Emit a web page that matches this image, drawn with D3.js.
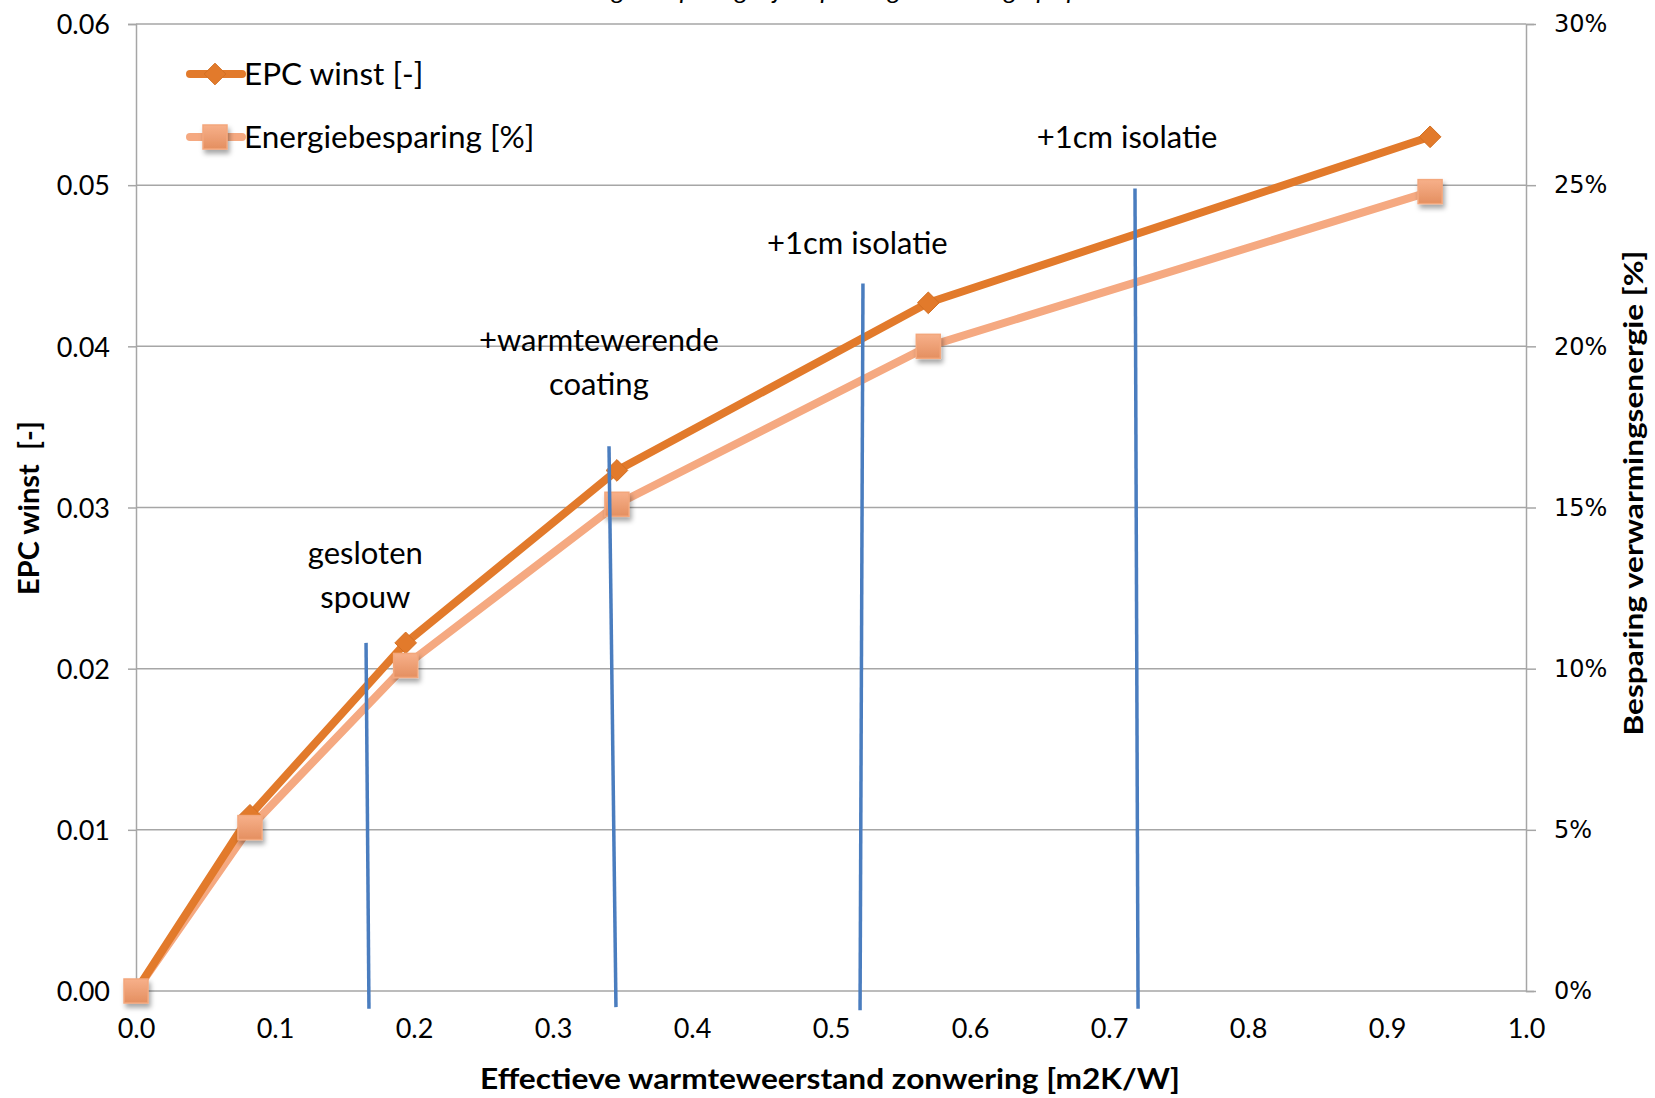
<!DOCTYPE html>
<html>
<head>
<meta charset="utf-8">
<script src="https://cdn.jsdelivr.net/npm/d3@7"></script>
<style>
  html, body { margin: 0; padding: 0; background: #fff; overflow: hidden; }
  svg { display: block; font-family: Lato, "Open Sans", sans-serif; }
  .tick text { fill: #000; }
</style>
</head>
<body>
<svg id="chart" width="1655" height="1098"></svg>
<script>
// --- data ---
const resistance = [0, 0.082, 0.194, 0.346, 0.57, 0.931];
const epcGain = [0, 0.0109, 0.0216, 0.0323, 0.0427, 0.053];
const energySaving = [0, 0.0507, 0.101, 0.151, 0.2, 0.248];

const xTicks = [0, 0.1, 0.2, 0.3, 0.4, 0.5, 0.6, 0.7, 0.8, 0.9, 1.0];
const leftTicks = [0, 0.01, 0.02, 0.03, 0.04, 0.05, 0.06];
const rightTicks = [0, 0.05, 0.1, 0.15, 0.2, 0.25, 0.3];

// blue marker lines: [x top, y top, x bottom, y bottom]
const markerLines = [
  [0.1655, 0.0216, 0.1676, -0.0011],
  [0.3403, 0.0338, 0.3453, -0.001],
  [0.523, 0.0439, 0.5209, -0.0012],
  [0.7187, 0.0498, 0.7209, -0.0011]
];

// annotations: lines of text, centre x, baseline y of first line (data units)
const notes = [
  { lines: ["gesloten", "spouw"], x: 0.165, y: 0.0265 },
  { lines: ["+warmtewerende", "coating"], x: 0.333, y: 0.0397 },
  { lines: ["+1cm isolatie"], x: 0.519, y: 0.0457 },
  { lines: ["+1cm isolatie"], x: 0.713, y: 0.0523 }
];

const seriesNames = ["EPC winst [-]", "Energiebesparing [%]"];

const COLORS = { epc: "#E27A2B", energy: "#F5A981", blue: "#4A7DBF", grid: "#A6A6A6" };
const M = { left: 136, right: 1526, top: 24, bottom: 991 };

const svg = d3.select("#chart");

const x = d3.scaleLinear().domain([0, 1]).range([M.left, M.right]);
const yL = d3.scaleLinear().domain([0, 0.06]).range([M.bottom, M.top]);
const yR = d3.scaleLinear().domain([0, 0.3]).range([M.bottom, M.top]);

// defs: shadow + square gradient
const defs = svg.append("defs");
const shadow = defs.append("filter").attr("id", "shadow")
  .attr("x", "-50%").attr("y", "-50%").attr("width", "200%").attr("height", "200%");
shadow.append("feDropShadow").attr("dx", 2).attr("dy", 4).attr("stdDeviation", 2.5)
  .attr("flood-color", "#000").attr("flood-opacity", 0.35);
const grad = defs.append("linearGradient").attr("id", "sq").attr("x1", 0).attr("y1", 0).attr("x2", 0).attr("y2", 1);
grad.append("stop").attr("offset", "0%").attr("stop-color", "#F7B08A");
grad.append("stop").attr("offset", "100%").attr("stop-color", "#E48F60");

// cropped title at the very top (only descenders visible, as in the source)
svg.append("text")
  .attr("x", 845).attr("y", -1)
  .attr("text-anchor", "middle")
  .attr("font-size", 26).attr("font-style", "italic")
  .text("Energiebesparing bij toepassing zonwering op spouw");

// gridlines
svg.append("g").selectAll("line").data(leftTicks).join("line")
  .attr("x1", M.left).attr("x2", M.right)
  .attr("y1", d => yL(d)).attr("y2", d => yL(d))
  .attr("stroke", COLORS.grid).attr("stroke-width", 1.5);

// left axis
const leftAxis = svg.append("g")
  .attr("transform", `translate(${M.left},0)`)
  .call(d3.axisLeft(yL).tickValues(leftTicks).tickFormat(d3.format(".2f")).tickSize(8).tickPadding(18));
// right axis
const rightAxis = svg.append("g")
  .attr("transform", `translate(${M.right},0)`)
  .call(d3.axisRight(yR).tickValues(rightTicks).tickFormat(d3.format(".0%")).tickSize(8).tickPadding(20));
// bottom axis (labels only)
const bottomAxis = svg.append("g")
  .attr("transform", `translate(0,${M.bottom})`)
  .call(d3.axisBottom(x).tickValues(xTicks).tickFormat(d3.format(".1f")).tickSize(0).tickPadding(42));

[leftAxis, rightAxis, bottomAxis].forEach(g => {
  g.selectAll(".domain").attr("stroke", COLORS.grid).attr("stroke-width", 1.5);
  g.selectAll(".tick line").attr("stroke", COLORS.grid).attr("stroke-width", 1.5);
  g.selectAll(".tick text").attr("font-size", 27).attr("font-family", "Lato, sans-serif");
});
bottomAxis.select(".domain").remove();
rightAxis.selectAll(".tick text").attr("font-family", "'DejaVu Sans', sans-serif").attr("font-size", 24);
rightAxis.selectAll(".tick line").attr("x2", 10);
leftAxis.selectAll(".tick text").attr("dy", "0.36em");
bottomAxis.selectAll(".tick text").attr("dy", "0.2em");

// axis titles
svg.append("text")
  .attr("transform", `translate(39,${508}) rotate(-90)`)
  .attr("text-anchor", "middle")
  .attr("font-size", 29).attr("font-weight", "bold")
  .attr("xml:space", "preserve")
  .text("EPC winst\u00a0\u00a0[-]");
svg.append("text")
  .attr("transform", `translate(1643,${493}) rotate(-90)`)
  .attr("text-anchor", "middle")
  .attr("font-size", 27).attr("font-weight", "bold")
  .attr("textLength", 485).attr("lengthAdjust", "spacingAndGlyphs")
  .text("Besparing verwarmingsenergie [%]");
svg.append("text")
  .attr("x", 830).attr("y", 1089)
  .attr("text-anchor", "middle")
  .attr("font-size", 28).attr("font-weight", "bold")
  .attr("textLength", 700).attr("lengthAdjust", "spacingAndGlyphs")
  .text("Effectieve warmteweerstand zonwering [m2K/W]");

// series
const epcPts = resistance.map((r, i) => [x(r), yL(epcGain[i])]);
const enPts = resistance.map((r, i) => [x(r), yR(energySaving[i])]);

svg.append("path").attr("d", d3.line()(enPts))
  .attr("fill", "none").attr("stroke", COLORS.energy).attr("stroke-width", 8)
  .attr("stroke-linejoin", "round");
svg.append("path").attr("d", d3.line()(epcPts))
  .attr("fill", "none").attr("stroke", COLORS.epc).attr("stroke-width", 8)
  .attr("stroke-linejoin", "round");

const diamond = d3.symbol().type(d3.symbolDiamond2).size(300);
function drawDiamond(g, px, py) {
  g.append("path").attr("d", diamond())
    .attr("transform", `translate(${px},${py})`)
    .attr("fill", COLORS.epc).attr("stroke", "#D36F22").attr("stroke-width", 1);
}
function drawSquare(g, px, py) {
  g.append("rect")
    .attr("x", px - 12).attr("y", py - 12).attr("width", 24).attr("height", 24)
    .attr("fill", "url(#sq)").attr("stroke", "#F3A77C").attr("stroke-width", 1.5)
    .attr("filter", "url(#shadow)");
}
const markers = svg.append("g");
epcPts.forEach(p => drawDiamond(markers, p[0], p[1]));
enPts.forEach(p => drawSquare(markers, p[0], p[1]));

// blue vertical marker lines
svg.append("g").selectAll("line").data(markerLines).join("line")
  .attr("x1", d => x(d[0])).attr("y1", d => yL(d[1]))
  .attr("x2", d => x(d[2])).attr("y2", d => yL(d[3]))
  .attr("stroke", COLORS.blue).attr("stroke-width", 3.5);

// annotations
notes.forEach(n => {
  const t = svg.append("text")
    .attr("text-anchor", "middle")
    .attr("font-size", 31);
  n.lines.forEach((line, i) => {
    t.append("tspan").attr("x", x(n.x)).attr("y", yL(n.y) + i * 44).text(line);
  });
});

// legend
const legend = svg.append("g");
const legendRows = [
  { name: seriesNames[0], color: COLORS.epc, y: 74, marker: "d" },
  { name: seriesNames[1], color: COLORS.energy, y: 137, marker: "s" }
];
legendRows.forEach(r => {
  legend.append("line").attr("x1", 190).attr("x2", 242).attr("y1", r.y).attr("y2", r.y)
    .attr("stroke", r.color).attr("stroke-width", 8).attr("stroke-linecap", "round");
  if (r.marker === "d") drawDiamond(legend, 215, r.y);
  else drawSquare(legend, 215, r.y);
  legend.append("text").attr("x", 244).attr("y", r.y + 11)
    .attr("font-size", 31.5).text(r.name);
});
</script>
</body>
</html>
